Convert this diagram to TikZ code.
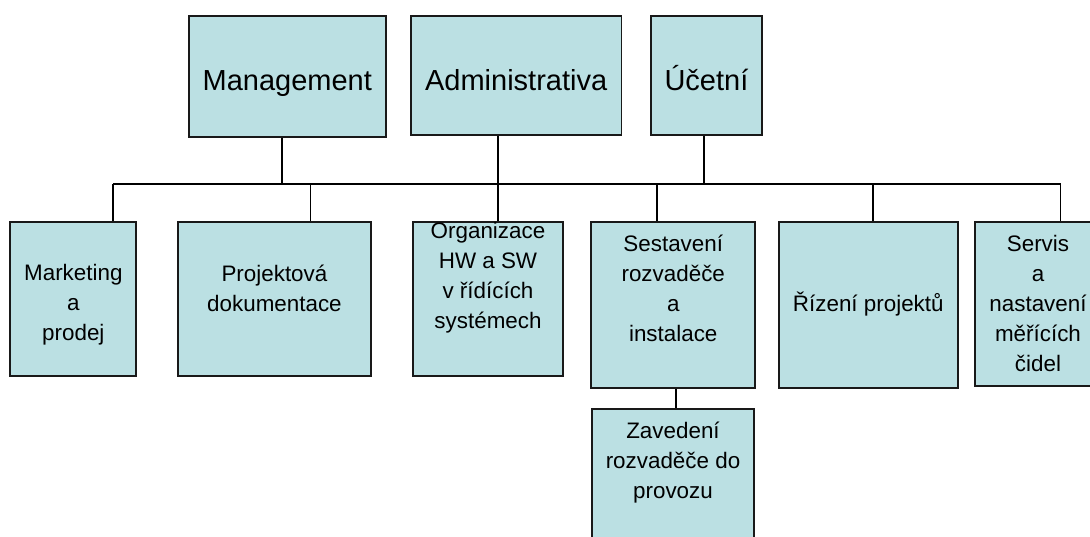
\documentclass[tikz,border=0pt]{standalone}
\usepackage{fontspec}
\setmainfont{Liberation Sans}
\definecolor{boxfill}{HTML}{BBE0E3}
\newcommand\fls{\rule{0pt}{26pt}}
\newcommand\flb{\rule{0pt}{32pt}}
\begin{document}
\begin{tikzpicture}[x=1pt,y=-1pt,
  box/.style={draw=black!90, fill=boxfill, line width=1.9pt, inner sep=0pt},
  big/.style={font=\fontsize{29}{33}\selectfont, anchor=north, inner sep=0pt, align=center},
  small/.style={font=\fontsize{22.4}{30}\selectfont, anchor=north, inner sep=0pt, align=center},
  conn/.style={line width=1.7pt, draw=black}]
\useasboundingbox (0,0) rectangle (1090,537);
\clip (0,0) rectangle (1090,537);
\fill[white] (0,0) rectangle (1090,537);

% bus and drop coordinates
\coordinate (dm)  at (282.2,184);
\coordinate (dad) at (498,184);
\coordinate (duc) at (704.3,184);
\coordinate (dmk) at (113,184);
\coordinate (dpj) at (310.4,184);
\coordinate (dse) at (657.3,184);
\coordinate (drz) at (872.8,184);
\coordinate (dsv) at (1060.5,184);
\coordinate (dzv) at (676,398);

% boxes
\node[box, minimum width=197.1pt, minimum height=121pt]   (m)   at (287.25,76.2) {};
\node[box, minimum width=210.7pt, minimum height=119.3pt] (ad)  at (516.15,75.35) {};
\node[box, minimum width=111.5pt, minimum height=119.3pt] (uc)  at (706.45,75.35) {};
\node[box, minimum width=125.9pt, minimum height=154pt]   (mk)  at (73.35,298.7) {};
\node[box, minimum width=192.9pt, minimum height=154pt]   (pj)  at (274.45,298.7) {};
\node[box, minimum width=150pt,   minimum height=154pt]   (org) at (488,298.7) {};
\node[box, minimum width=164.1pt, minimum height=166pt]   (se)  at (673.25,304.7) {};
\node[box, minimum width=179.4pt, minimum height=166pt]   (rz)  at (868.3,304.7) {};
\node[box, minimum width=126pt,   minimum height=164.3pt] (sv)  at (1038,303.85) {};
\node[box, minimum width=162.6pt, minimum height=166pt]   (zv)  at (673,492.3) {};

% connectors
\draw[conn] (dmk) -- (dsv);
\draw[conn] (m.south -| dm) -- (dm);
\draw[conn] (ad.south -| dad) -- (org.north -| dad);
\draw[conn] (uc.south -| duc) -- (duc);
\draw[conn] (dmk) -- (mk.north -| dmk);
\draw[conn] (dpj) -- (pj.north -| dpj);
\draw[conn] (dse) -- (se.north -| dse);
\draw[conn] (drz) -- (rz.north -| drz);
\draw[conn] (dsv) -- (sv.north -| dsv);
\draw[conn] (se.south -| dzv) -- (zv.north -| dzv);

% texts (baseline of first line = y + rule height)
\node[big] (mt)  at (287.25,90.3-32) {\flb Management};
\node[big] (adt) at (516.15,90.3-32) {\flb Administrativa};
\node[big] (uct) at (706.45,90.3-32) {\flb Účetní};
\node[small] (mkt)  at (73.35,280-26) {\fls Marketing\\a\\prodej};
\node[small] (pjt)  at (274.45,281-26) {\fls Projektová\\dokumentace};
\node[small] (orgt) at (488,238-26) {\fls Organizace\\HW a SW\\v řídících\\systémech};
\node[small] (set)  at (673.25,251-26) {\fls Sestavení\\rozvaděče\\a\\instalace};
\node[small] (rzt)  at (868.3,311-26) {\fls Řízení projektů};
\node[small] (svt)  at (1038,251-26) {\fls Servis\\a\\nastavení\\měřících\\čidel};
\node[small] (zvt)  at (673,438-26) {\fls Zavedení\\rozvaděče do\\provozu};
\end{tikzpicture}
\end{document}
